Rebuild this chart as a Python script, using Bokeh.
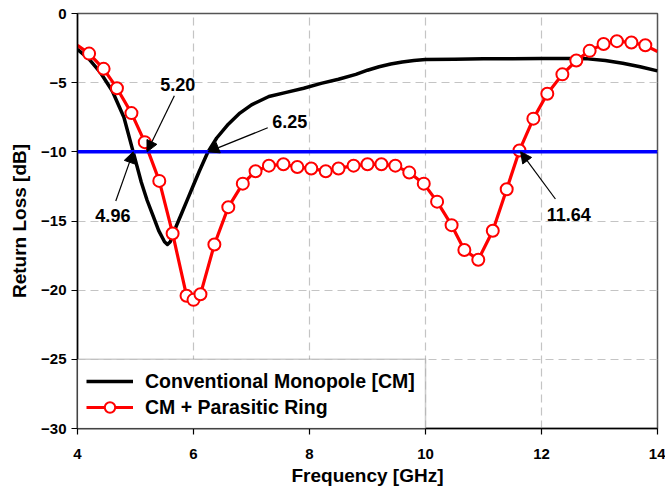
from bokeh.plotting import figure
from bokeh.models import (ColumnDataSource, Span, Arrow, NormalHead, BoxAnnotation,
                          Legend, LegendItem, FixedTicker, Range1d)
from bokeh.core.properties import value
from bokeh.embed import file_html
from bokeh.resources import INLINE

# ---- data ----
black_f = [4.0, 4.2, 4.4, 4.6, 4.8, 4.96, 5.1, 5.2, 5.3, 5.4, 5.5, 5.55, 5.6, 5.7, 5.8,
           5.9, 6.0, 6.1, 6.25, 6.4, 6.6, 6.8, 7.0, 7.3, 7.6, 7.9, 8.2, 8.5, 8.8, 9.0,
           9.2, 9.4, 9.6, 9.8, 10.0, 10.5, 11.0, 11.5, 12.0, 12.5, 12.8, 13.1, 13.4, 13.7, 14.0]
black_rl = [-2.6, -3.3, -4.3, -5.6, -7.5, -10.0, -12.2, -13.5, -14.6, -15.7, -16.5, -16.7,
            -16.5, -15.4, -14.4, -13.4, -12.4, -11.4, -10.0, -9.0, -8.0, -7.2, -6.6, -6.0,
            -5.7, -5.4, -5.05, -4.75, -4.4, -4.1, -3.85, -3.65, -3.5, -3.4, -3.33, -3.3,
            -3.28, -3.27, -3.25, -3.25, -3.28, -3.4, -3.6, -3.85, -4.15]

red_f = [4.0, 4.2, 4.45, 4.68, 4.93, 5.16, 5.41, 5.64, 5.88, 6.0, 6.12, 6.36, 6.6, 6.85,
         7.07, 7.3, 7.55, 7.79, 8.03, 8.28, 8.5, 8.76, 9.0, 9.24, 9.48, 9.72, 9.97, 10.2,
         10.45, 10.67, 10.91, 11.16, 11.4, 11.62, 11.86, 12.1, 12.36, 12.6, 12.83, 13.07,
         13.3, 13.55, 13.79, 14.0]
red_rl = [-2.3, -2.9, -4.0, -5.4, -7.2, -9.3, -12.1, -15.9, -20.4, -20.7, -20.3, -16.7,
          -14.0, -12.3, -11.4, -11.0, -10.9, -11.1, -11.2, -11.4, -11.2, -11.0, -10.9,
          -10.9, -11.0, -11.5, -12.3, -13.6, -15.3, -17.1, -17.8, -15.7, -12.7, -9.9,
          -7.6, -5.8, -4.4, -3.4, -2.7, -2.2, -2.0, -2.1, -2.3, -2.75]

threshold_db = -10
ann_freq = [4.96, 5.20, 6.25, 11.64]

x_ticks = [4, 6, 8, 10, 12, 14]
y_ticks = [-30, -25, -20, -15, -10, -5, 0]

# ---- layout constants for the annotation texts ----
lab_x = [4.61, 5.73, 7.66, 12.47]
lab_y = [-14.6, -5.11, -7.83, -14.53]
tail_x = [4.66, 5.67, 7.28, 12.24]
tail_y = [-13.55, -5.94, -8.26, -13.41]

FONT = "Liberation Sans"

p = figure(width=665, height=489, output_backend="svg", toolbar_location=None,
           x_range=Range1d(4, 14), y_range=Range1d(-30, 0),
           min_border_left=77, min_border_top=13, min_border_right=8, min_border_bottom=61)
p.background_fill_color = "white"
p.border_fill_color = "white"
p.outline_line_color = "#555555"
p.outline_line_width = 1.5

for ax in (p.xaxis[0], p.yaxis[0]):
    ax.axis_line_color = "black"
    ax.axis_line_width = 1.5
    ax.major_tick_line_color = "black"
    ax.major_tick_line_width = 1.2
    ax.major_tick_out = 6
    ax.major_tick_in = 0
    ax.minor_tick_line_color = None
    ax.major_label_text_font = FONT
    ax.major_label_text_font_style = "bold"
    ax.major_label_text_font_size = "15px"
    ax.major_label_text_color = "black"
    ax.axis_label_text_font = FONT
    ax.axis_label_text_font_style = "bold"
    ax.axis_label_text_font_size = "19px"
    ax.axis_label_text_color = "black"

p.xaxis.ticker = FixedTicker(ticks=x_ticks)
p.yaxis.ticker = FixedTicker(ticks=y_ticks)
p.xaxis.axis_label = "Frequency [GHz]"
p.yaxis.axis_label = "Return Loss [dB]"
p.xaxis.major_label_standoff = 14
p.xaxis.axis_label_standoff = 3
p.yaxis.major_label_standoff = 5
p.yaxis.axis_label_standoff = 8

for g in (p.xgrid[0], p.ygrid[0]):
    g.grid_line_color = "#c4c4c4"
    g.grid_line_dash = "8 5"
    g.grid_line_width = 1.2

# threshold line
p.add_layout(Span(location=threshold_db, dimension="width", line_color="#0000ff", line_width=3.5))

black_src = ColumnDataSource(dict(f=black_f, rl=black_rl))
red_src = ColumnDataSource(dict(f=red_f, rl=red_rl))
red_mk = ColumnDataSource(dict(f=red_f[1:-1], rl=red_rl[1:-1]))

r_black = p.line("f", "rl", source=black_src, line_color="black", line_width=3.5,
                 line_join="round")
r_red = p.line("f", "rl", source=red_src, line_color="#ff0000", line_width=3.2,
               line_join="round")
r_red_m = p.scatter("f", "rl", source=red_mk, marker="circle", size=12,
                    fill_color="white", line_color="#ff0000", line_width=2)

# annotations
for fx, tx, ty in zip(ann_freq, tail_x, tail_y):
    p.add_layout(Arrow(end=NormalHead(size=11, fill_color="black", line_color="black"),
                       x_start=tx, y_start=ty, x_end=fx, y_end=threshold_db,
                       line_color="black", line_width=1.2))

ann_src = ColumnDataSource(dict(x=lab_x, y=lab_y, t=["%.2f" % v for v in ann_freq]))
p.text("x", "y", text="t", source=ann_src, text_font=value(FONT), text_font_style="bold",
       text_font_size="18px", text_align="center", text_baseline="middle", text_color="black")

# legend box
p.add_layout(BoxAnnotation(left=4, right=10, bottom=-30, top=-25, fill_color="white",
                           fill_alpha=1.0, line_color="#555555", line_width=1.5))

legend = Legend(items=[LegendItem(label="Conventional Monopole [CM]", renderers=[r_black]),
                       LegendItem(label="CM + Parasitic Ring", renderers=[r_red, r_red_m])],
                location=(9, 8), padding=0, margin=0, spacing=0,
                glyph_width=47, glyph_height=26, label_height=26, label_standoff=12,
                border_line_color=None, background_fill_alpha=0,
                label_text_font=FONT, label_text_font_style="bold",
                label_text_font_size="19.5px", label_text_color="black")
p.add_layout(legend, "center")

open("out.html", "w").write(file_html(p, INLINE))
